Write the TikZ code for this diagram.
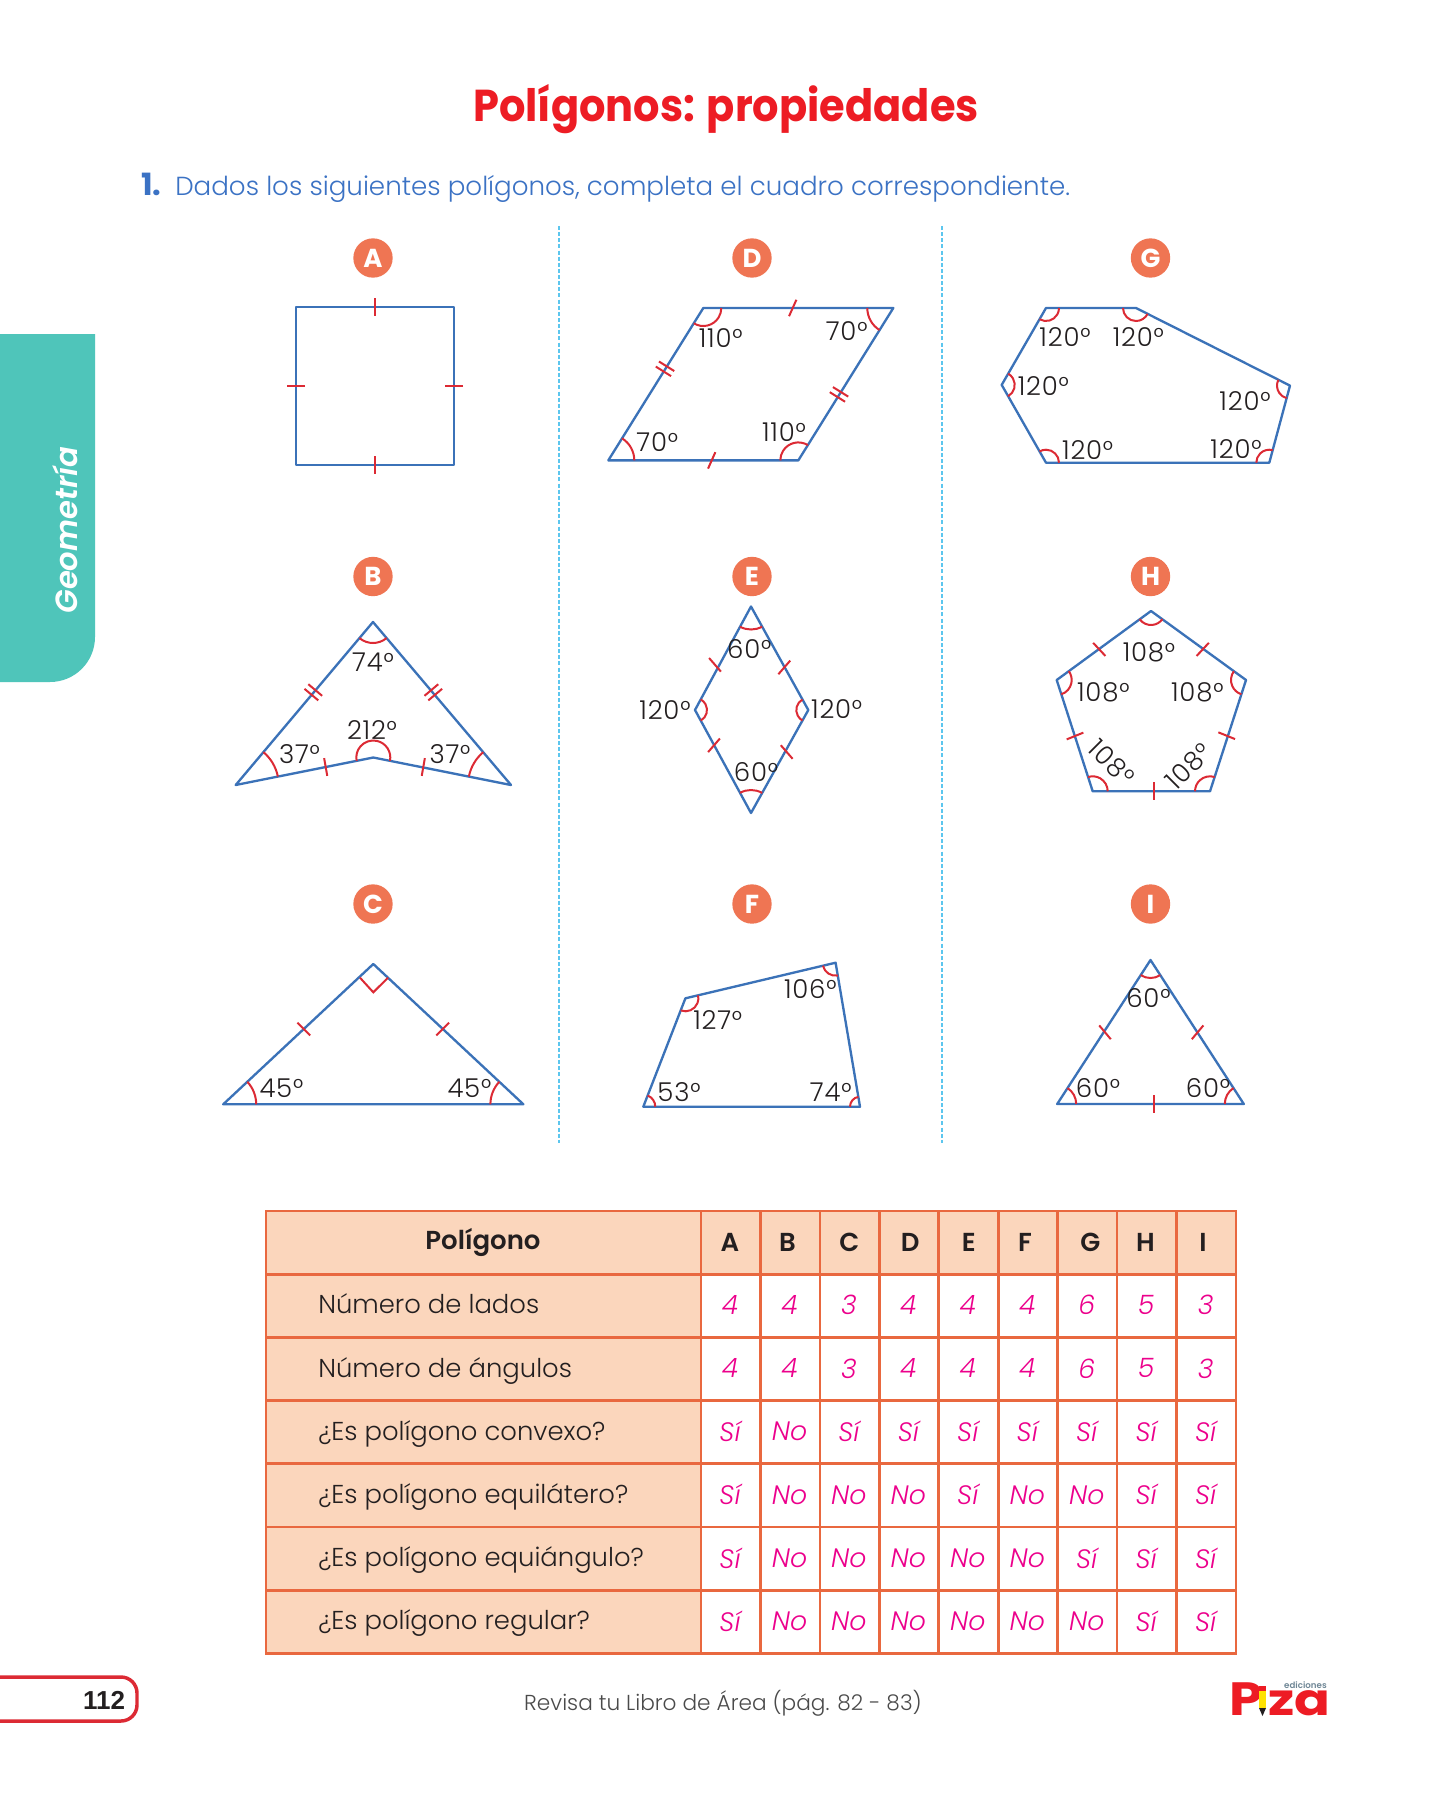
\documentclass[tikz,border=0pt]{standalone}
\usepackage{fontspec}
\usetikzlibrary{angles,calc}
\setmainfont{Poppins}[UprightFont={* Light},ItalicFont={* Light Italic},BoldFont={* SemiBold},BoldItalicFont={* SemiBold Italic}]
\newfontfamily\heavyf{Poppins}[UprightFont={* Bold}]
\newfontfamily\angf{Poppins}[UprightFont={* Light},LetterSpace=3]
\newfontfamily\arialf{Liberation Sans}
\definecolor{polyblue}{HTML}{3B72B8}
\definecolor{markred}{HTML}{DC2A34}
\definecolor{badge}{HTML}{EF7553}
\definecolor{titlered}{HTML}{ED1C24}
\definecolor{instrblue}{HTML}{3B72C4}
\definecolor{skyline}{HTML}{5CC6EE}
\definecolor{tabteal}{HTML}{4FC5BA}
\definecolor{tline}{HTML}{E9683F}
\definecolor{tfill}{HTML}{FBD6BC}
\definecolor{pinkval}{HTML}{EC008C}
\definecolor{inkk}{HTML}{231F20}
\definecolor{footg}{HTML}{4A4A4A}
\definecolor{logog}{HTML}{6F8796}
\tikzset{
  poly/.style={draw=polyblue,line width=1.75pt,line join=round},
  tickline/.style={draw=markred,line width=1.5pt},
  arcline/.style={draw=markred,line width=1.5pt},
  anglabel/.style={inner sep=0pt,text=inkk,font=\angf\fontsize{19.5}{21}\selectfont},
  badgenode/.style={circle,fill=badge,minimum size=29.5pt,inner sep=0pt,text=white,font=\heavyf\fontsize{19.5}{20}\selectfont},
  guide/.style={draw=skyline,line width=1.2pt,dash pattern=on 3pt off 1.6pt},
  rowlabel/.style={anchor=base west,inner sep=0pt,text=inkk,font=\fontsize{19.4}{21}\selectfont},
  headlabel/.style={inner sep=0pt,text=inkk,font=\fontsize{19.5}{21}\bfseries\selectfont},
  valuelabel/.style={inner sep=0pt,text=pinkval,font=\fontsize{20}{22}\itshape\selectfont},
  grid line/.style={draw=tline,line width=2pt,line cap=rect},
}
\newcount\lc
\newcommand{\vtx}[3]{\coordinate (#1) at (#2,-#3);}
\newcommand{\lab}[3]{\global\advance\lc by 1 \node[anglabel] (lab\the\lc) at (#1,-#2) {#3};}
\newcommand{\rlab}[4]{\global\advance\lc by 1 \node[anglabel,rotate=#4] (lab\the\lc) at (#1,-#2) {#3};}
\newcommand{\tk}[3]{\draw[tickline] (#1,-#2) ++(#3:9) -- ++(#3+180:18);}
\newcommand{\dtk}[3]{\begin{scope}[shift={(#1,-#2)},rotate=#3]\draw[tickline] (-9,3) -- (9,3);\draw[tickline] (-9,-3) -- (9,-3);\end{scope}}
\newcommand{\ang}[4]{\pic[arcline,angle radius={#4*0.75pt}] {angle=#1--#2--#3};}
\begin{document}
\begin{tikzpicture}[x=0.75pt,y=0.75pt]
\useasboundingbox (0,0) rectangle (1452,-1800);
\fill[white] (0,0) rectangle (1452,-1800);

% side tab
\fill[tabteal] (0,-334) -- (95,-334) -- (95,-637) arc (0:-90:45) -- (0,-682) -- cycle;
\node[rotate=90,inner sep=0pt,text=white,font=\fontsize{23}{25}\bfseries\itshape\selectfont] (sidetab) at (65,-530) {Geometría};

% title
\node[xscale=0.93,inner sep=0pt,anchor=base,text=titlered,font=\heavyf\fontsize{33.5}{36}\selectfont] (title) at (726,-121) {Polígonos: propiedades};
\node[inner sep=0pt,anchor=base west,text=instrblue,font=\heavyf\fontsize{23}{24}\selectfont] (num) at (141,-195) {1.};
\node[inner sep=0pt,anchor=base west,text=instrblue,font=\fontsize{19.6}{22}\selectfont] (instr) at (175,-195) {Dados los siguientes polígonos, completa el cuadro correspondiente.};

% guides
\coordinate (g1a) at (559,-226); \coordinate (g1b) at (559,-1143);
\coordinate (g2a) at (942,-226); \coordinate (g2b) at (942,-1143);
\draw[guide] (g1a) -- (g1b);
\draw[guide] (g2a) -- (g2b);

% badges
\foreach \nm/\bx/\by in {A/373/258,B/373/576.5,C/373/904,D/752/258,E/752/576.5,F/752/904,G/1150.5/258,H/1150.5/576.5,I/1150.5/904}
  \node[badgenode] (badge\nm) at (\bx,-\by) {\nm};

% A
\vtx{a1}{296}{307}\vtx{a2}{296}{465}\vtx{a3}{454}{465}\vtx{a4}{454}{307}
\draw[poly] (a1)--(a2)--(a3)--(a4)--cycle;
\tk{374.7}{307}{90}\tk{374.7}{465}{90}\tk{296}{386}{0}\tk{454}{386}{0}

% B
\vtx{b1}{373}{622}\vtx{b2}{235.7}{785}\vtx{b3}{373.3}{757.5}\vtx{b4}{511}{785}
\draw[poly] (b1)--(b2)--(b3)--(b4)--cycle;
\ang{b2}{b1}{b4}{21}\ang{b3}{b2}{b1}{43}\ang{b4}{b3}{b2}{17}\ang{b1}{b4}{b3}{43}
\dtk{313.3}{692.3}{-40}\dtk{433.3}{692.3}{40}
\tk{325.7}{767}{100}\tk{423.3}{767}{80}
\lab{373}{662}{74°}\lab{372}{730}{212°}\lab{299.5}{754}{37°}\lab{450}{754}{37°}

% C
\vtx{c1}{373.3}{964}\vtx{c2}{223.2}{1104.3}\vtx{c3}{523.4}{1104.3}
\draw[poly] (c1)--(c2)--(c3)--cycle;
\vtx{cr1}{360}{977.7}\vtx{cr2}{373.3}{992.3}\vtx{cr3}{388}{977.7}
\draw[arcline] (cr1)--(cr2)--(cr3);
\ang{c3}{c2}{c1}{33}\ang{c1}{c3}{c2}{33}
\tk{303.8}{1029}{-45}\tk{442.7}{1029}{45}
\lab{281.4}{1088.3}{45°}\lab{469.4}{1088.3}{45°}

% D
\vtx{d1}{703.3}{308}\vtx{d2}{608.3}{460.4}\vtx{d3}{798.3}{460.4}\vtx{d4}{893.3}{308}
\draw[poly] (d1)--(d2)--(d3)--(d4)--cycle;
\ang{d2}{d1}{d4}{18}\ang{d3}{d2}{d1}{26}\ang{d4}{d3}{d2}{18}\ang{d1}{d4}{d3}{26}
\tk{792.7}{308}{66}\tk{711.7}{460.4}{66}
\dtk{665}{368.8}{-32}\dtk{839}{394.4}{-32}
\lab{720.7}{338}{110°}\lab{846.7}{331}{70°}\lab{657.3}{442.4}{70°}\lab{784}{432}{110°}

% E
\vtx{e1}{751}{606.5}\vtx{e2}{695}{710}\vtx{e3}{751}{813}\vtx{e4}{808.3}{710}
\draw[poly] (e1)--(e2)--(e3)--(e4)--cycle;
\ang{e2}{e1}{e4}{23}\ang{e3}{e2}{e1}{12}\ang{e4}{e3}{e2}{23}\ang{e1}{e4}{e3}{12}
\tk{715}{664.8}{-49}\tk{784.3}{667.4}{49}\tk{714}{745.3}{49}\tk{786.7}{752}{-49}
\lab{749.3}{649.4}{60°}\lab{665}{710}{120°}\lab{836.7}{708.8}{120°}\lab{756}{772}{60°}

% F
\vtx{f1}{685.4}{998.3}\vtx{f2}{643.3}{1106.7}\vtx{f3}{860}{1106.7}\vtx{f4}{835.6}{962.7}
\draw[poly] (f1)--(f2)--(f3)--(f4)--cycle;
\ang{f2}{f1}{f4}{13}\ang{f3}{f2}{f1}{12}\ang{f4}{f3}{f2}{10}\ang{f1}{f4}{f3}{13}
\lab{717.7}{1020}{127°}\lab{810.3}{989.3}{106°}\lab{679}{1091.7}{53°}\lab{830.7}{1092.3}{74°}

% G
\vtx{g1}{1046}{308}\vtx{g2}{1001.7}{384.9}\vtx{g3}{1046}{462.7}\vtx{g4}{1269.3}{462.7}\vtx{g5}{1290}{385.6}\vtx{g6}{1136}{308}
\draw[poly] (g1)--(g2)--(g3)--(g4)--(g5)--(g6)--cycle;
\ang{g2}{g1}{g6}{13}\ang{g3}{g2}{g1}{13}\ang{g4}{g3}{g2}{13}\ang{g5}{g4}{g3}{13}\ang{g6}{g5}{g4}{13}\ang{g1}{g6}{g5}{13}
\lab{1065}{337}{120°}\lab{1138.3}{337}{120°}\lab{1043.3}{385.6}{120°}\lab{1245}{401.3}{120°}\lab{1236}{449}{120°}\lab{1087.7}{450}{120°}

% H
\vtx{h1}{1151}{611}\vtx{h2}{1056.7}{680}\vtx{h3}{1092.7}{791.3}\vtx{h4}{1210}{791.3}\vtx{h5}{1246}{680}
\draw[poly] (h1)--(h2)--(h3)--(h4)--(h5)--cycle;
\ang{h2}{h1}{h5}{14}\ang{h3}{h2}{h1}{15}\ang{h4}{h3}{h2}{15}\ang{h5}{h4}{h3}{15}\ang{h1}{h5}{h4}{15}
\tk{1099.3}{649.4}{-47}\tk{1202.7}{649.4}{47}\tk{1075}{736}{22}\tk{1226.7}{735.7}{-22}\tk{1154.3}{791.3}{90}
\lab{1149}{652}{108°}\lab{1103.3}{692.7}{108°}\lab{1197.3}{692.7}{108°}
\rlab{1111.7}{762.5}{108°}{-45}\rlab{1188.3}{766}{108°}{45}

% I
\vtx{i1}{1150.5}{960}\vtx{i2}{1057.2}{1104}\vtx{i3}{1243.8}{1104}
\draw[poly] (i1)--(i2)--(i3)--cycle;
\ang{i2}{i1}{i3}{18}\ang{i3}{i2}{i1}{19}\ang{i1}{i3}{i2}{19}
\tk{1105}{1032.3}{-50}\tk{1197.6}{1032.3}{50}\tk{1154}{1104}{90}
\lab{1148.4}{998.3}{60°}\lab{1098}{1088}{60°}\lab{1208}{1088}{60°}

% table
\fill[tfill] (266,-1211) rectangle (701,-1653.5);
\fill[tfill] (701,-1211) rectangle (1236,-1274);
\foreach \k in {1,...,7} { \pgfmathsetmacro{\yy}{1211+63.2*\k} \draw[grid line] (266,-\yy) -- (1236,-\yy); }
\draw[grid line] (266,-1211) -- (1236,-1211);
\draw[grid line] (266,-1211) -- (266,-1653.4);
\foreach \k in {0,...,9} { \pgfmathsetmacro{\xx}{701+59.45*\k} \draw[grid line] (\xx,-1211) -- (\xx,-1653.4); }
\node[headlabel,anchor=base] (hpol) at (483,-1249) {Polígono};
\foreach \nm/\hx in {A/730,B/787.4,C/849.4,D/910.2,E/968.8,F/1025,G/1090.4,H/1145.5,I/1203}
  \node[headlabel] (head\nm) at (\hx,-1242.5) {\nm};
\foreach \rr/\ty in {1/Número de lados,2/Número de ángulos,3/¿Es polígono convexo?,4/¿Es polígono equilátero?,5/¿Es polígono equiángulo?,6/¿Es polígono regular?} {
  \pgfmathsetmacro{\yy}{1250.6+63.2*\rr}
  \node[rowlabel] (row\rr) at (318,-\yy) {\ty};
}
\foreach \rr/\vals in {1/{4,4,3,4,4,4,6,5,3},2/{4,4,3,4,4,4,6,5,3},3/{Sí,No,Sí,Sí,Sí,Sí,Sí,Sí,Sí},4/{Sí,No,No,No,Sí,No,No,Sí,Sí},5/{Sí,No,No,No,No,No,Sí,Sí,Sí},6/{Sí,No,No,No,No,No,No,Sí,Sí}} {
  \pgfmathsetmacro{\yy}{1242.0+63.2*\rr}
  \foreach \vv [count=\cc from 0] in \vals {
    \pgfmathsetmacro{\xx}{730+59.45*\cc}
    \node[valuelabel] (v\rr-\cc) at (\xx,-\yy) {\vv};
  }
}

% footer
\draw[draw=markred,line width=2.6pt] (0,-1677) -- (121,-1677) arc (90:0:16) -- (137,-1705) arc (0:-90:16) -- (0,-1721);
\node[inner sep=0pt,text=inkk,font=\arialf\fontsize{19.5}{21}\bfseries\selectfont] (pagenum) at (104,-1700) {112};
\node[inner sep=0pt,anchor=base,text=footg,font=\fontsize{16.25}{20}\selectfont] (foot) at (723,-1710) {Revisa tu Libro de Área (pág. 82 - 83)};

% logo
\node[xscale=1.15,inner sep=0pt,anchor=base west,text=titlered,font=\heavyf\fontsize{35}{36}\selectfont] (logoP) at (1229,-1715) {P};
\node[xscale=1.2,inner sep=0pt,anchor=base west,text=titlered,font=\heavyf\fontsize{33}{36}\selectfont] (logoZa) at (1268,-1715) {za};
\node[inner sep=0pt,anchor=base east,text=logog,font=\fontsize{6.5}{7}\bfseries\selectfont] (logoEd) at (1327,-1688) {ediciones};
\fill[yellow!85!orange] (1259,-1691) rectangle (1266,-1708);
\fill[inkk] (1259,-1708) -- (1266,-1708) -- (1262.5,-1716) -- cycle;
\fill[titlered] (1259,-1686) rectangle (1266,-1691);
\end{tikzpicture}
\end{document}
